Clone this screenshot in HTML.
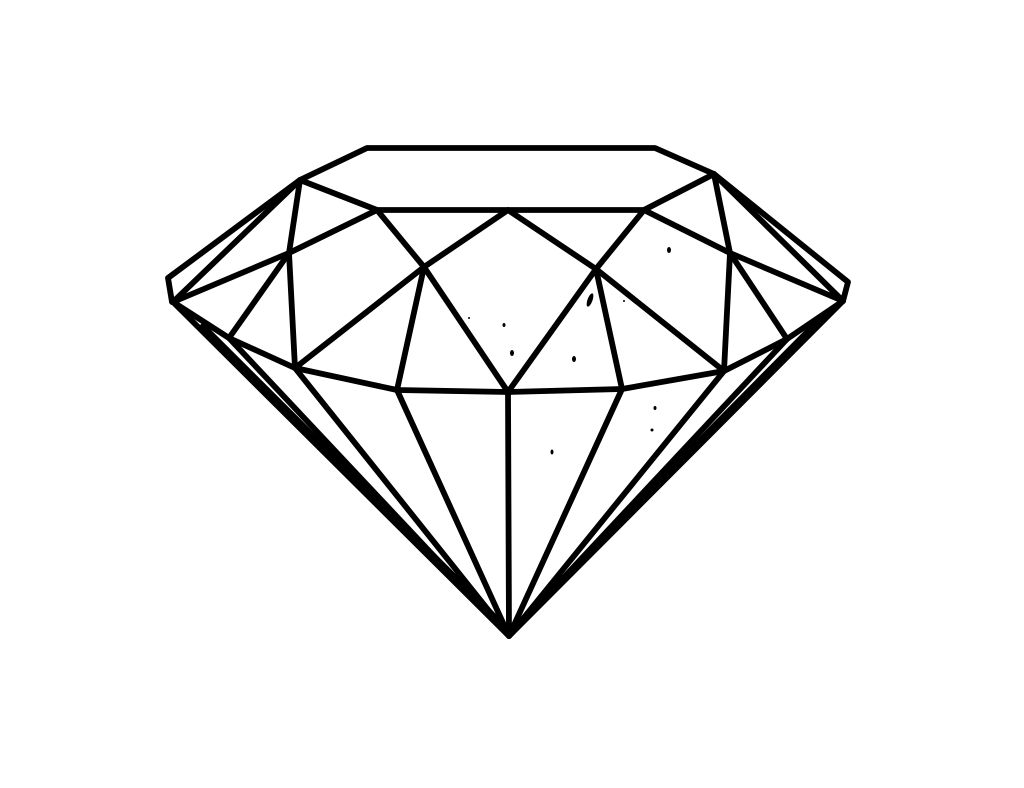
<!DOCTYPE html>
<html><head><style>html,body{margin:0;padding:0;background:#fff;}svg{display:block}</style></head>
<body>
<svg width="1024" height="788" viewBox="0 0 1024 788" xmlns="http://www.w3.org/2000/svg">
<g fill="none" stroke="#000" stroke-width="5.8" stroke-linejoin="round" stroke-linecap="round">
<polyline points="300,180 367,148 655,148 714,174"/>
<polyline points="300,180 168,278 172,302"/>
<polyline points="714,174 848,282 843,301"/>
<line x1="300" y1="180" x2="173" y2="302"/>
<line x1="714" y1="174" x2="843" y2="301"/>
<line x1="377" y1="210" x2="644" y2="210"/>
<line x1="300" y1="180" x2="377" y2="210"/>
<line x1="714" y1="174" x2="644" y2="210"/>
<polyline points="300,180 289,253 295,368"/>
<polyline points="377,210 289,253 173,302"/>
<line x1="377" y1="210" x2="424" y2="267"/>
<line x1="424" y1="267" x2="295" y2="368"/>
<line x1="289" y1="253" x2="229" y2="338"/>
<polyline points="173,302 229,338 295,368"/>
<polyline points="424,267 508,210 596,269"/>
<line x1="596" y1="269" x2="644" y2="210"/>
<line x1="424" y1="267" x2="397" y2="390"/>
<line x1="424" y1="267" x2="508" y2="392"/>
<line x1="596" y1="269" x2="508" y2="392"/>
<line x1="596" y1="269" x2="622" y2="389"/>
<line x1="596" y1="269" x2="724" y2="371"/>
<polyline points="714,174 730,253 724,371"/>
<polyline points="644,210 730,253 843,301"/>
<line x1="730" y1="253" x2="787" y2="339"/>
<polyline points="724,371 787,339 843,301"/>
<polyline points="295,368 397,390 508,392 622,389 724,371"/>
<line x1="173" y1="302" x2="509" y2="636"/>
<line x1="203" y1="326" x2="500" y2="622"/>
<line x1="229" y1="338" x2="509" y2="636"/>
<line x1="295" y1="368" x2="509" y2="636"/>
<line x1="397" y1="390" x2="509" y2="636"/>
<line x1="508" y1="392" x2="509" y2="636"/>
<line x1="622" y1="389" x2="509" y2="636"/>
<line x1="724" y1="371" x2="509" y2="636"/>
<line x1="787" y1="339" x2="509" y2="636"/>
<line x1="817" y1="322" x2="520" y2="622"/>
<line x1="843" y1="301" x2="509" y2="636"/>
</g>
<g fill="#000">
<ellipse cx="590" cy="300" rx="2.5" ry="7" transform="rotate(20 590 300)"/>
<ellipse cx="669" cy="250" rx="2" ry="3"/>
<ellipse cx="512" cy="353" rx="2" ry="3"/>
<ellipse cx="574" cy="359" rx="2" ry="3"/>
<ellipse cx="504" cy="325" rx="1.5" ry="2"/>
<ellipse cx="655" cy="408" rx="1.5" ry="2"/>
<ellipse cx="652" cy="430" rx="1.5" ry="1.5"/>
<ellipse cx="552" cy="452" rx="1.5" ry="2.5"/>
<ellipse cx="469" cy="318" rx="1" ry="1"/>
<ellipse cx="624" cy="301" rx="1" ry="1"/>
</g>
</svg>
</body></html>
